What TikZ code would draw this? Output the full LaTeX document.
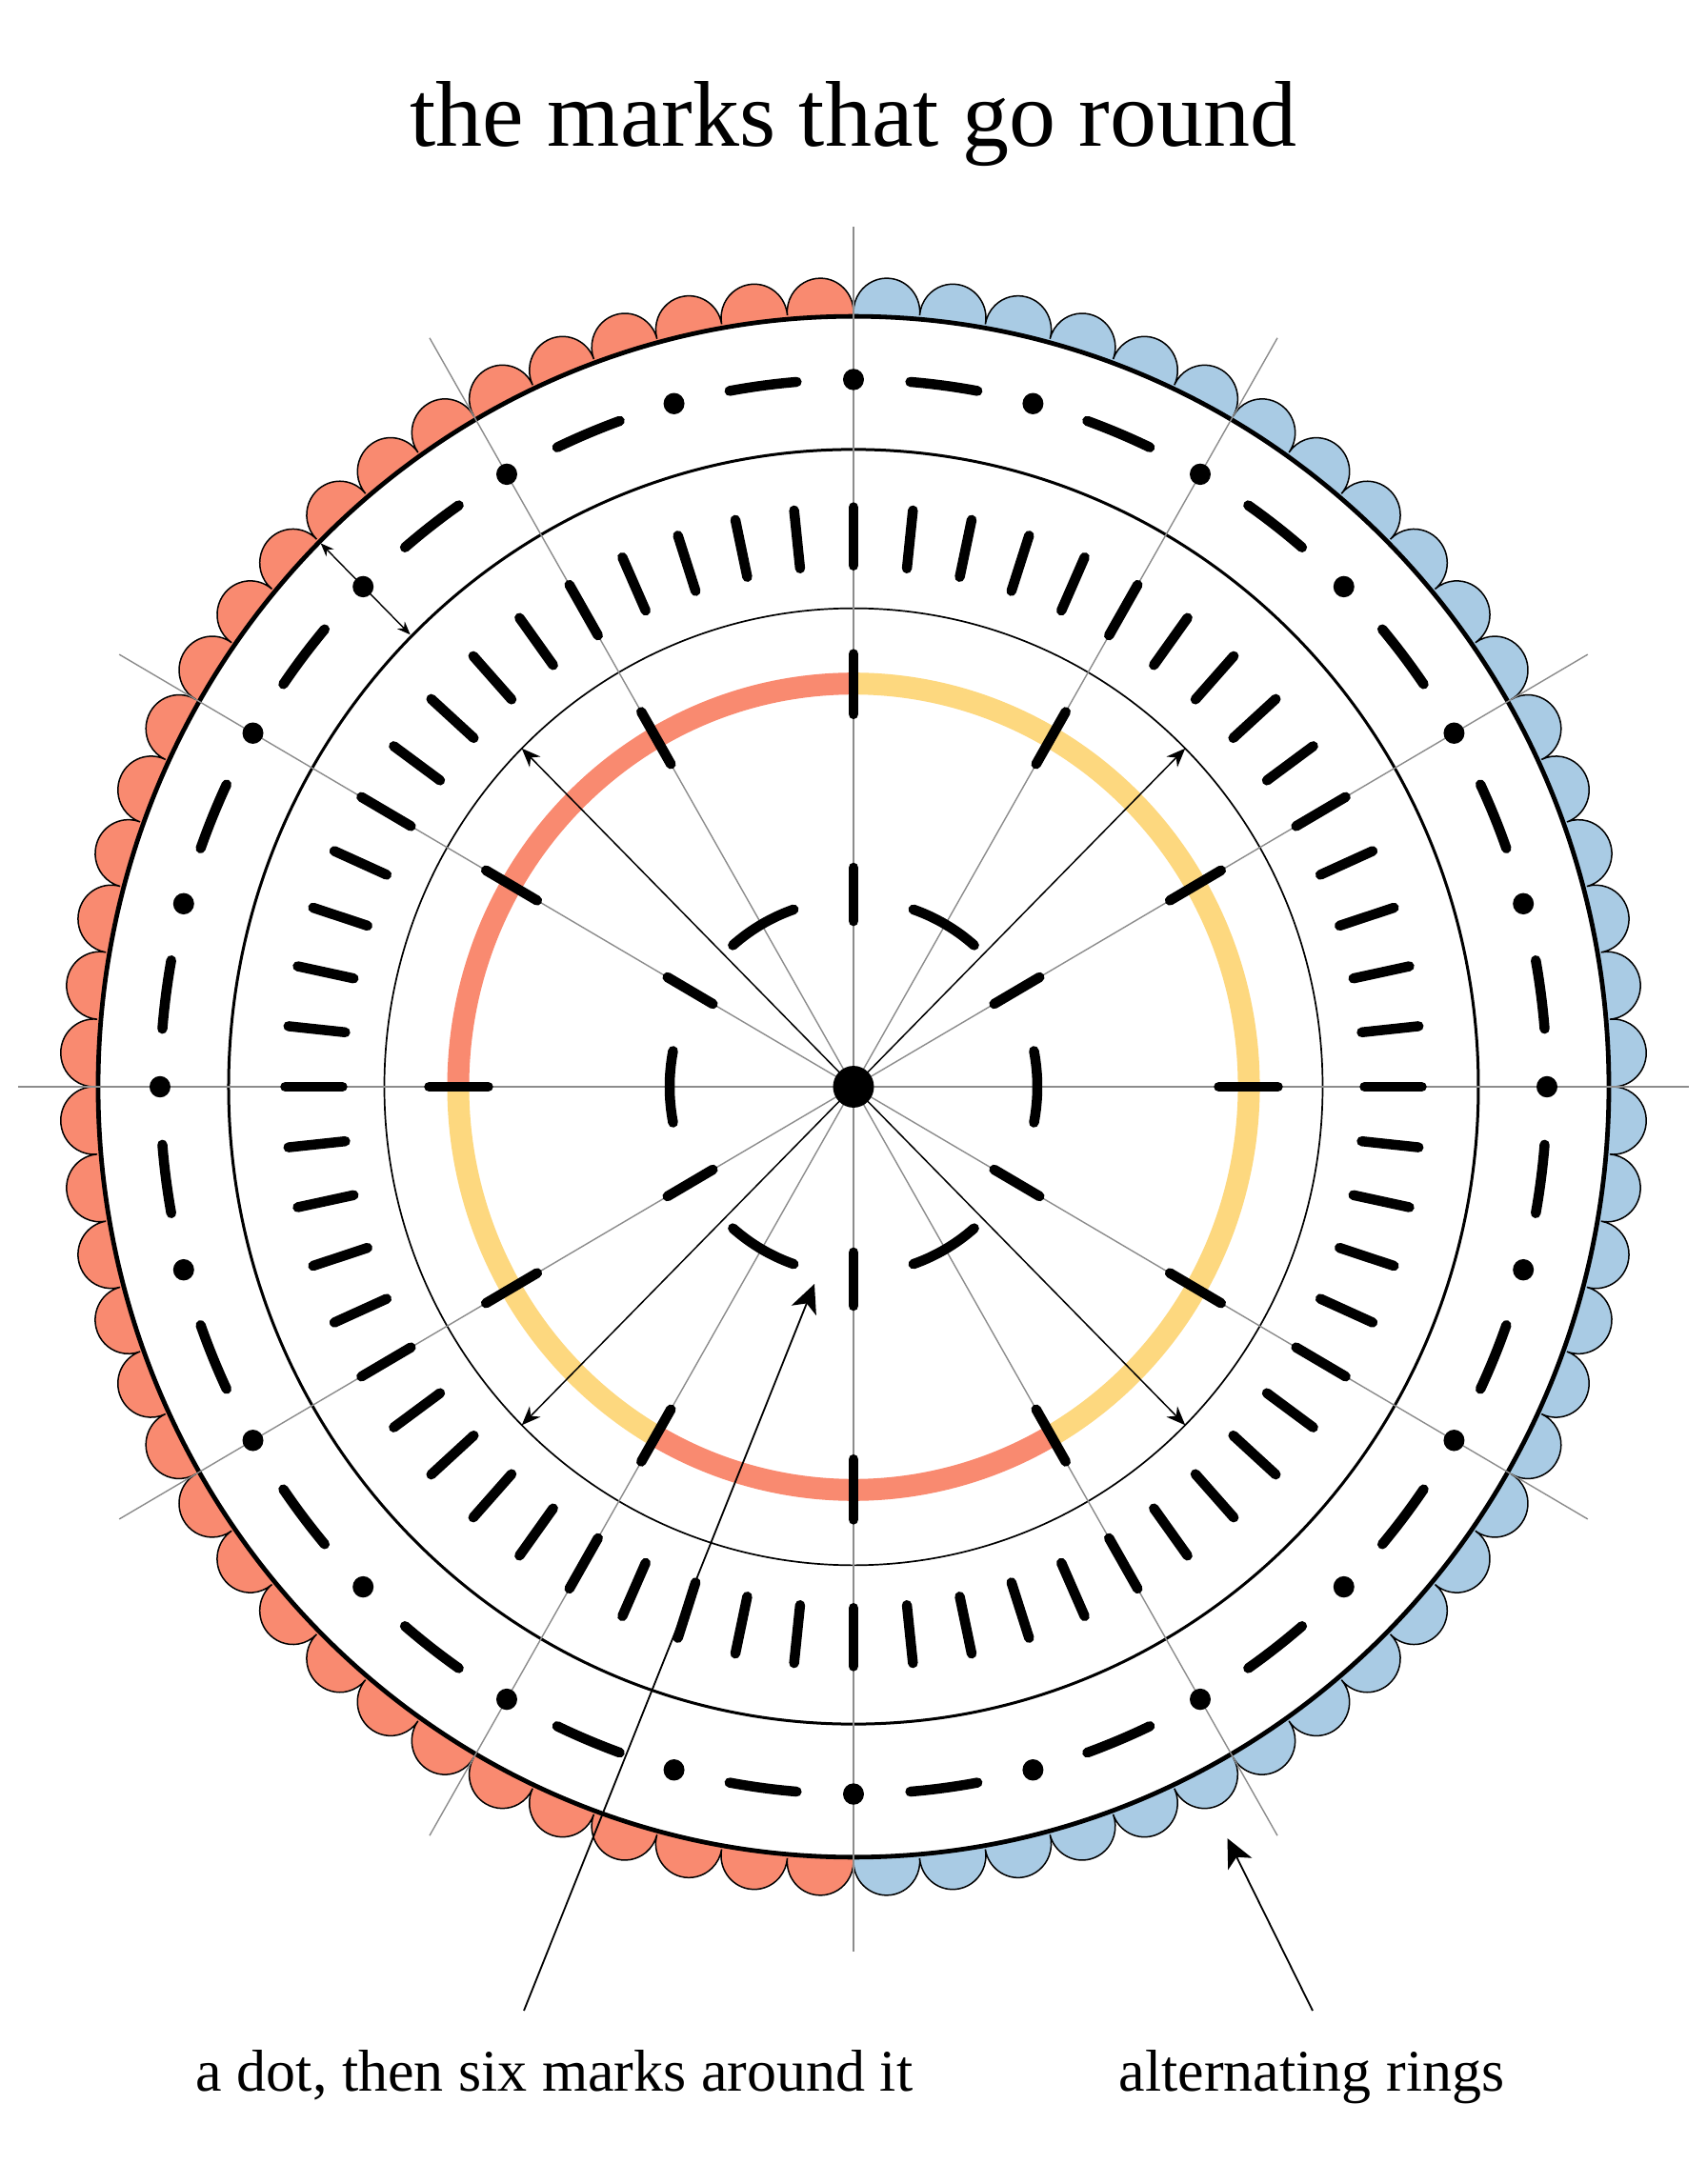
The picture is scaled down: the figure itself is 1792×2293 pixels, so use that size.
\documentclass[tikz,border=0pt]{standalone}
\usepackage{fontspec}
\setmainfont{Liberation Serif}
\usetikzlibrary{arrows.meta}
\definecolor{salmon}{HTML}{F98A70}
\definecolor{sky}{HTML}{A9CBE4}
\definecolor{sun}{HTML}{FDD87F}
\definecolor{guide}{HTML}{8C8C8C}
\begin{document}
\begin{tikzpicture}[x=0.5pt,y=0.5pt,
  markstroke/.style={line width=5.25pt, line cap=round},
  guideline/.style={guide, line width=0.7pt},
  arrowline/.style={line width=0.75pt, -{Stealth[length=10pt,width=8pt]}},
  twoway/.style={line width=0.7pt, {Stealth[length=7pt,width=5.5pt]}-{Stealth[length=7pt,width=5.5pt]}},
  leader/.style={line width=0.9pt, -{Stealth[length=15pt,width=14pt,inset=4pt]}},
  ringband/.style={line width=11.5pt},
  titletext/.style={font=\fontsize{49}{58}\selectfont},
  labeltext/.style={font=\fontsize{31}{37}\selectfont}]
\useasboundingbox (-896,-1152) rectangle (896,1141);
\fill[white] (-896,-1152) rectangle (896,1141);
\begin{scope}[yscale=1.02]
% scalloped border
\fill[salmon] (90:797) \foreach \k in {0,...,35}{ arc[start angle={-0.69+5*\k}, end angle={185.69+5*\k}, radius=34.82] } -- (270:793) arc[start angle=270,end angle=90,radius=793] -- cycle;
\fill[sky] (270:797) \foreach \k in {0,...,35}{ arc[start angle={-180.69+5*\k}, end angle={5.69+5*\k}, radius=34.82] } -- (90:793) arc[start angle=90,end angle=-90,radius=793] -- cycle;
\draw[line width=0.75pt] (90:797) \foreach \k in {0,...,71}{ arc[start angle={-0.69+5*\k}, end angle={185.69+5*\k}, radius=34.82] };
% circles
\draw[line width=0.85pt] (0,0) circle[radius=492.5];
\draw[line width=1.5pt] (0,0) circle[radius=656];
\draw[line width=2.4pt] (0,0) circle[radius=793];
% coloured ring
\draw[ringband, salmon] (90:415) arc[start angle=90,end angle=180,radius=415];
\draw[ringband, sun] (180:415) arc[start angle=180,end angle=240,radius=415];
\draw[ringband, salmon] (240:415) arc[start angle=240,end angle=300,radius=415];
\draw[ringband, sun] (300:415) arc[start angle=300,end angle=450,radius=415];
% guide lines
\draw[guideline] (-877,0) -- (877,0);
\draw[guideline] (0,-890) -- (0,885);
\foreach \a in {30,60,120,150} \draw[guideline] (\a:890) -- ({\a+180}:890);
% arrows from centre
\coordinate (hub) at (0,0);
\foreach \a in {45,135,225,315} {
  \coordinate (tip\a) at (\a:492.5);
  \draw[arrowline] (hub) -- (tip\a);
}
% inner marks
\foreach \a in {30,90,...,330} \draw[markstroke] (\a:170.5) -- (\a:225.5);
\foreach \a in {0,60,...,300} \draw[markstroke] ({\a-11}:193) arc[start angle={\a-11}, end angle={\a+11}, radius=193];
% dashes on coloured ring
\foreach \a in {0,30,...,330} \draw[markstroke] (\a:383.5) -- (\a:445.5);
% tick ring
\foreach \a in {0,6,...,354} \draw[markstroke] (\a:536.5) -- (\a:596.5);
% dot-dash ring
\foreach \a in {0,15,...,345} {
  \fill (\a:728) circle[radius=11];
  \draw[markstroke] ({\a+4.7}:728) arc[start angle={\a+4.7}, end angle={\a+10.3}, radius=728];
}
% centre dot
\fill (hub) circle[radius=21.5];
% double arrow
\coordinate (gapout) at (135:791);
\coordinate (gapin) at (135:658);
\draw[twoway] (gapout) -- (gapin);
\end{scope}
% title and labels
\node[titletext, anchor=base] (title) at (0,987) {the marks that go round};
\node[labeltext, anchor=base] (lab1) at (-314,-1054) {a dot, then six marks around it};
\node[labeltext, anchor=base] (lab2) at (481,-1054) {alternating rings};
\coordinate (l1s) at (-346,-970);
\coordinate (l1t) at (-41,-207);
\coordinate (l2s) at (482,-970);
\coordinate (l2t) at (392.5,-789);
\draw[leader] (l1s) -- (l1t);
\draw[leader] (l2s) -- (l2t);
\end{tikzpicture}
\end{document}
